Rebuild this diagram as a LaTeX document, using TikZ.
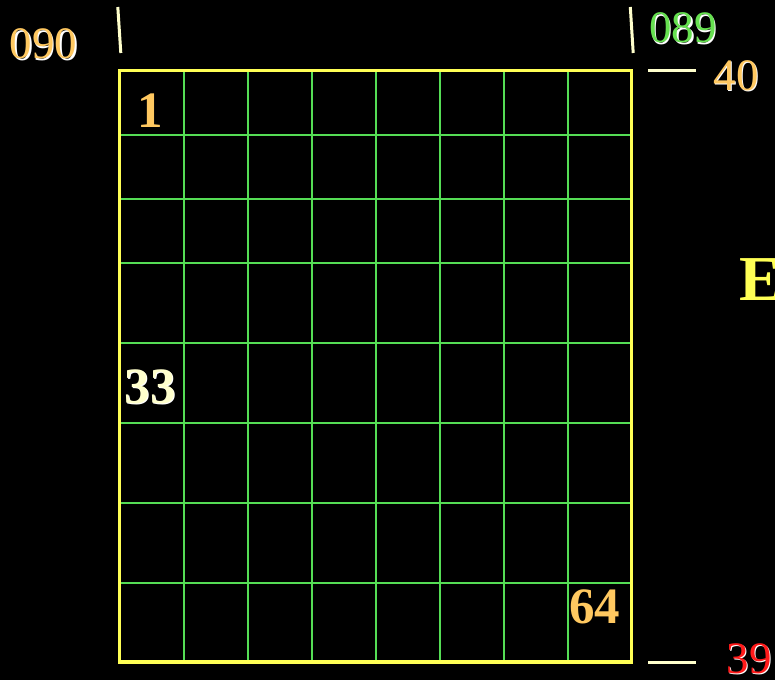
\documentclass[tikz,border=0pt]{standalone}
\usepackage{fontspec}
\setmainfont{Liberation Serif}
\usepackage{tikz}
\definecolor{Gold}{HTML}{FFC860}
\definecolor{Frame}{HTML}{FFFF55}
\definecolor{Grid}{HTML}{55DD55}
\definecolor{Leaf}{HTML}{66E050}
\definecolor{Cream}{HTML}{FFFFCC}
\definecolor{Hot}{HTML}{FF1A1A}
\usetikzlibrary{calc}

% label with a white drop shadow behind it
\newcommand{\shadowlabel}[5]{%
  \node[#1, text=white] (#2s) at ($(#3)+(1.3,1.3)$) {#5};
  \node[#1, text=#4] (#2) at (#3) {#5};}

\begin{document}
\begin{tikzpicture}[
  x=1pt, y=-1pt,
  num/.style={inner sep=0pt, font=\fontsize{45}{45}\selectfont},
  big/.style={inner sep=0pt, font=\fontsize{51}{51}\selectfont\bfseries},
  frame/.style={draw=Frame, line width=3.6pt},
  gridline/.style={draw=Grid, line width=2pt},
  tick/.style={draw=Cream, line width=3pt}]

% ================= page =================
\fill[black] (0,0) rectangle (775,680);
\useasboundingbox (0,0) rectangle (775,680);
\clip (0,0) rectangle (775,680);

% ================= grid =================
\foreach \gx in {183.5,247.5,311.5,375.5,439.5,503.5,567.5}
  \draw[gridline] (\gx,70.5) -- (\gx,662);
\foreach \gy in {134.5,198.5,262.5,342.5,422.5,502.5,582.5}
  \draw[gridline] (119.5,\gy) -- (631.5,\gy);
\draw[frame] (119.5,70.5) rectangle (631.5,662);

% ================= ticks =================
\draw[tick] (117.8,7) -- (120.8,53);
\draw[tick] (630.3,7) -- (633.2,53);
\draw[tick] (648,70.3) -- (695.5,70.3);
\draw[tick] (648,662.3) -- (695.5,662.3);

% ================= labels =================
\shadowlabel{num}{west}{43.5,44}{Gold}{090}
\shadowlabel{num}{east}{683,28}{Leaf}{089}
\shadowlabel{num}{top}{736,75.5}{Gold}{40}
\shadowlabel{num}{bottom}{749,659}{Hot}{39}

\node[big, text=Gold] (first) at (150,111) {1};
\shadowlabel{big}{mid}{150,387}{Cream}{33}
\node[big, text=Gold] (last) at (594.5,607) {64};

\node[inner sep=0pt, anchor=west, text=Frame,
      font=\fontsize{64}{64}\selectfont\bfseries] (side) at (739,280) {E};
\end{tikzpicture}
\end{document}
